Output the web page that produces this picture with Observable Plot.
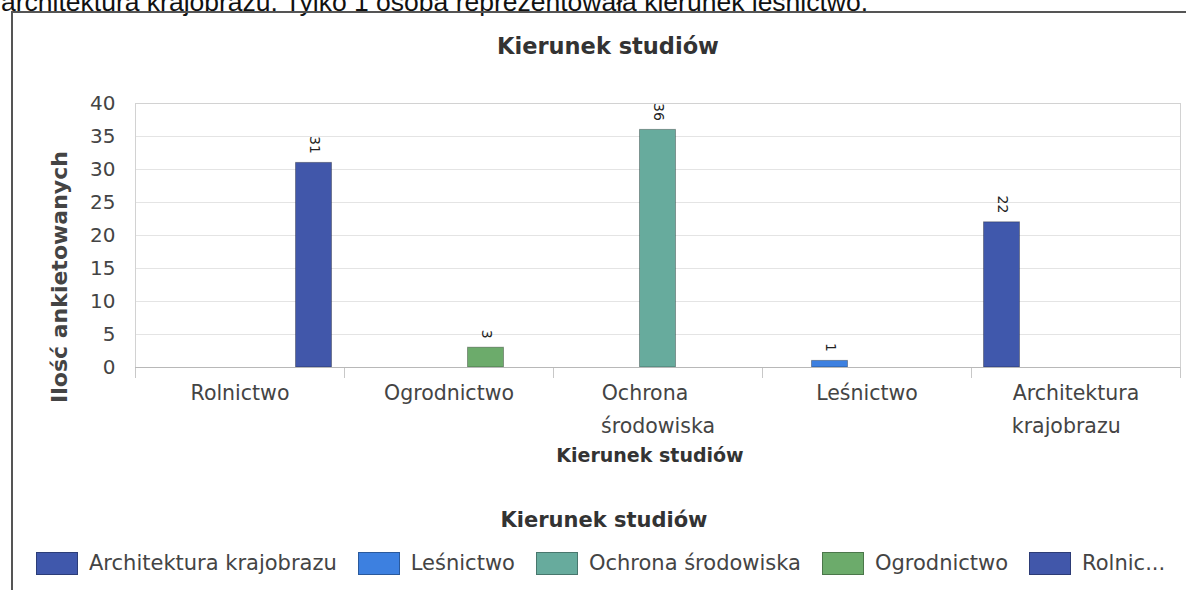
<!DOCTYPE html>
<html><head><meta charset="utf-8">
<script src="https://cdn.jsdelivr.net/npm/d3@7"></script>
<script src="https://cdn.jsdelivr.net/npm/@observablehq/plot@0.6"></script>
<style>
html,body{margin:0;padding:0;background:#fff;}
body{width:1186px;height:590px;overflow:hidden;position:relative;font-family:"DejaVu Sans",sans-serif;}
#sentence{position:absolute;left:1px;top:-11px;font-family:"Liberation Sans",Arial,sans-serif;font-size:26.5px;line-height:26.5px;color:#111;white-space:nowrap;}
#box{position:absolute;left:11px;top:11px;width:1220px;height:640px;border-left:2px solid #555;border-top:2px solid #555;}
#chart{position:absolute;left:0;top:0;}
.ttl{position:absolute;left:0;text-align:center;font-weight:bold;color:#333;white-space:nowrap;line-height:1;}
#title{top:35px;width:1216px;font-size:22.5px;}
#xlabel{top:446px;width:1300px;font-size:19px;}
#ltitle{top:510px;width:1208px;font-size:21px;}
#ylabel{position:absolute;left:60px;top:277px;transform:translate(-50%,-50%) rotate(-90deg);font-size:22px;font-weight:bold;color:#444;white-space:nowrap;line-height:1;}
#legend{position:absolute;left:36px;top:552px;display:flex;align-items:center;white-space:nowrap;}
.sw{width:40px;height:21px;border:1px solid rgba(0,0,0,0.3);margin-right:11px;}
.lt{font-size:21px;color:#444;margin-right:21px;line-height:23px;}
</style></head><body>
<div id="sentence">architektura krajobrazu. Tylko 1 osoba reprezentowała kierunek leśnictwo.</div>
<div id="box"></div>
<div id="title" class="ttl">Kierunek studiów</div>
<div id="chart"></div>
<div id="ylabel">Ilość ankietowanych</div>
<div id="xlabel" class="ttl">Kierunek studiów</div>
<div id="ltitle" class="ttl">Kierunek studiów</div>
<div id="legend"></div>
<script>
const categories = ["Rolnictwo", "Ogrodnictwo", "Ochrona środowiska", "Leśnictwo", "Architektura krajobrazu"];
const values = [31, 3, 36, 1, 22];
const categoryTickLabels = ["Rolnictwo", "Ogrodnictwo", "Ochrona\u00a0\u00a0\u00a0\u00a0\nśrodowiska", "Leśnictwo", "Architektura\nkrajobrazu\u00a0\u00a0\u00a0"];
const series = ["Architektura krajobrazu", "Leśnictwo", "Ochrona środowiska", "Ogrodnictwo", "Rolnictwo"];
const seriesLegendLabels = ["Architektura krajobrazu", "Leśnictwo", "Ochrona środowiska", "Ogrodnictwo", "Rolnic..."];
const seriesColors = ["#4058ac", "#3d80e0", "#67ab9d", "#6cab6b", "#4157aa"];
const yTicks = [0, 5, 10, 15, 20, 25, 30, 35, 40];

const data = categories.map((c, i) => ({category: c, series: c, value: values[i]}));
const labelData = categories.map((c, i) => ({category: c, label: categoryTickLabels[i]}));

const plot = Plot.plot({
  width: 1186, height: 590,
  marginLeft: 133, marginRight: 4, marginTop: 103, marginBottom: 223,
  style: {fontFamily: "DejaVu Sans", background: "transparent", overflow: "visible"},
  fx: {domain: categories, padding: 0, axis: null},
  x: {domain: series, paddingInner: 0, paddingOuter: 0.26, axis: null},
  y: {domain: [0, 40], axis: null},
  color: {domain: series, range: seriesColors},
  marks: [
    Plot.gridY(yTicks, {stroke: "#e4e4e4", strokeOpacity: 1}),
    Plot.ruleY([40], {stroke: "#d2d2d2"}),
    Plot.frame({anchor: "left", facetAnchor: "left", stroke: "#d2d2d2"}),
    Plot.frame({anchor: "right", facetAnchor: "right", stroke: "#d2d2d2"}),
    Plot.frame({anchor: "left", insetTop: 264, insetBottom: -10, stroke: "#c8c8c8"}),
    Plot.frame({anchor: "right", facetAnchor: "right", insetTop: 264, insetBottom: -10, stroke: "#c8c8c8"}),
    Plot.barY(data, {fx: "category", x: "series", y: "value", fill: "series", stroke: "rgba(0,0,0,0.3)", strokeWidth: 1, insetLeft: 0.5, insetRight: 0.5}),
    Plot.ruleY([0], {stroke: "#b8b8b8"}),
    Plot.text(data, {fx: "category", x: "series", y: "value", text: d => String(d.value), rotate: 90, textAnchor: "end", dy: -9, fontSize: 14, fill: "#222"}),
    Plot.text(labelData, {fx: "category", text: "label", frameAnchor: "bottom", lineAnchor: "top", dy: 9, fontSize: 20.5, lineHeight: 1.6, fill: "#444"}),
    Plot.axisY(yTicks, {tickSize: 0, tickPadding: 20, fontSize: 20, label: null, fill: "#444", tickFormat: d => String(d)})
  ]
});
document.getElementById("chart").appendChild(plot);

const legend = document.getElementById("legend");
series.forEach((s, i) => {
  const sw = document.createElement("div");
  sw.className = "sw";
  sw.style.background = seriesColors[i];
  const t = document.createElement("span");
  t.className = "lt";
  t.textContent = seriesLegendLabels[i];
  legend.appendChild(sw);
  legend.appendChild(t);
});
</script>
</body></html>
